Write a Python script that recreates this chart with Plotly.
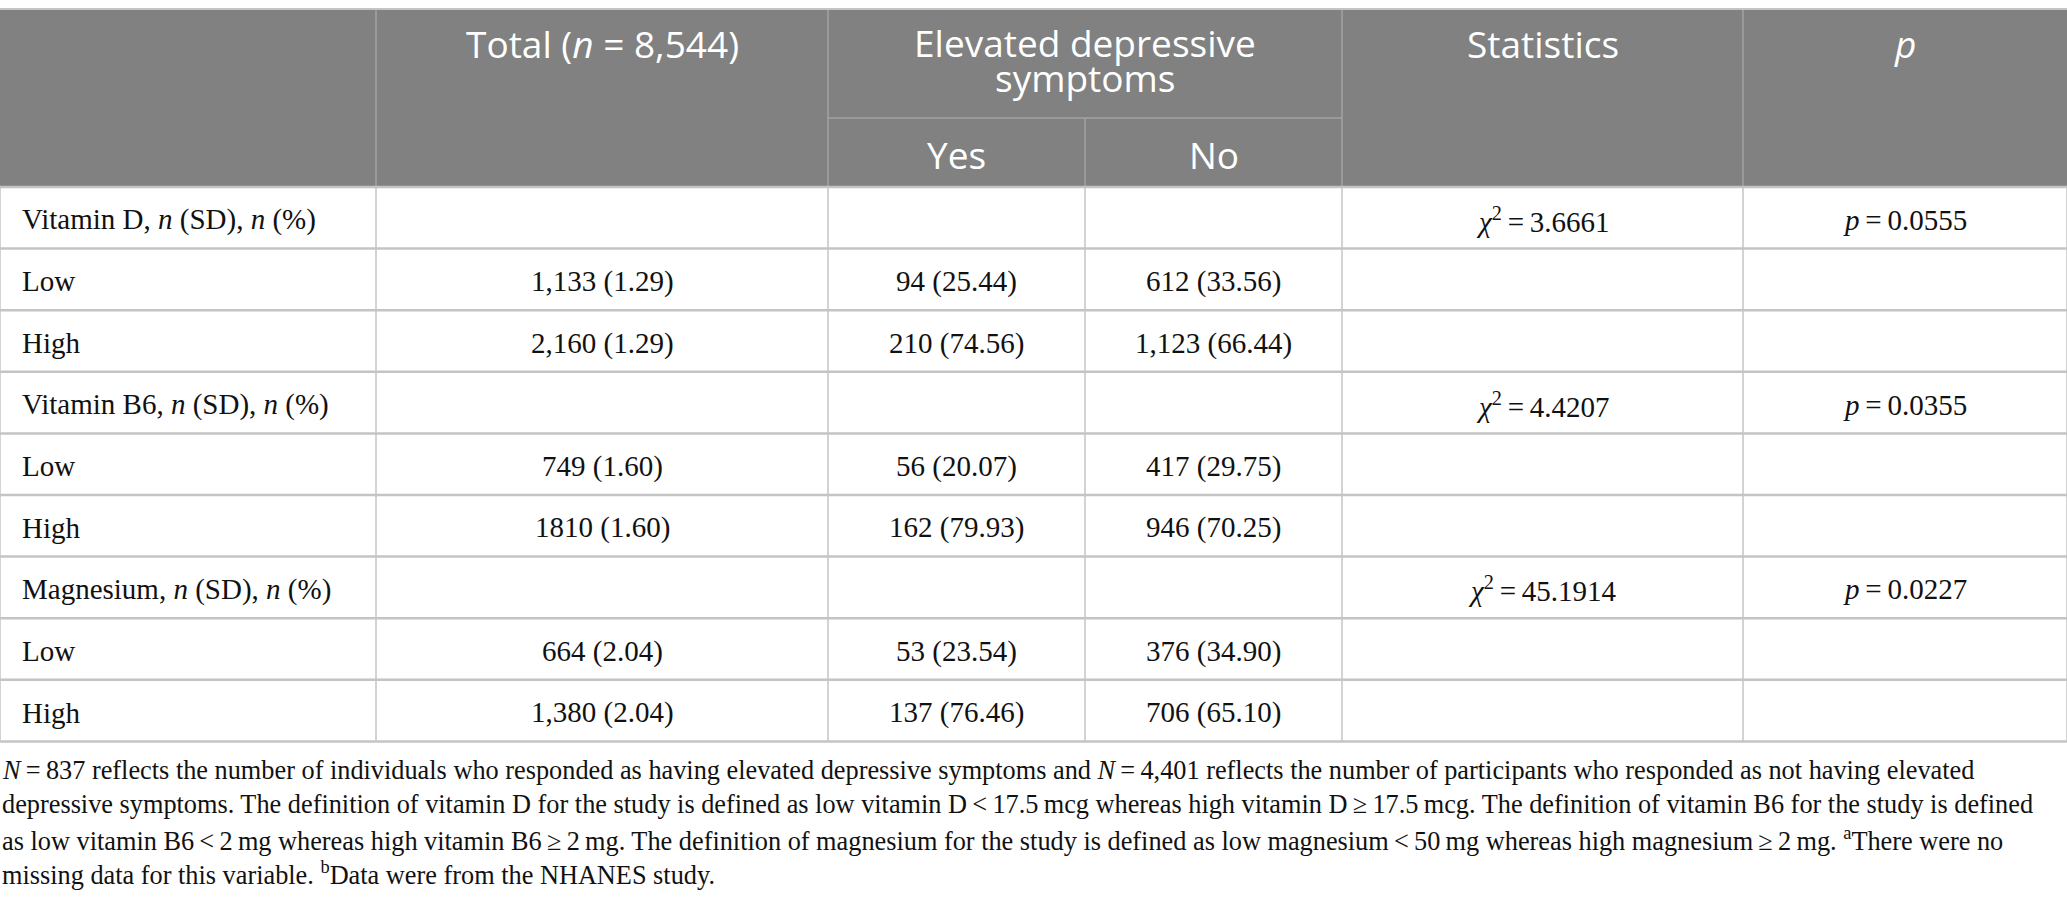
import plotly.graph_objects as go

# table content
row_labels = ["Vitamin D, <i>n</i> (SD), <i>n</i> (%)", "Low", "High",
              "Vitamin B6, <i>n</i> (SD), <i>n</i> (%)", "Low", "High",
              "Magnesium, <i>n</i> (SD), <i>n</i> (%)", "Low", "High"]
total_vals = ["", "1,133 (1.29)", "2,160 (1.29)",
              "", "749 (1.60)", "1810 (1.60)",
              "", "664 (2.04)", "1,380 (2.04)"]
yes_vals = ["", "94 (25.44)", "210 (74.56)",
            "", "56 (20.07)", "162 (79.93)",
            "", "53 (23.54)", "137 (76.46)"]
no_vals = ["", "612 (33.56)", "1,123 (66.44)",
           "", "417 (29.75)", "946 (70.25)",
           "", "376 (34.90)", "706 (65.10)"]
chi_vals = ["3.6661", "", "", "4.4207", "", "", "45.1914", "", ""]
p_vals = ["0.0555", "", "", "0.0355", "", "", "0.0227", "", ""]

footnote = [
    "<i>N</i>\u2009=\u2009837 reflects the number of individuals who responded as having elevated depressive symptoms and <i>N</i>\u2009=\u20094,401 reflects the number of participants who responded as not having elevated",
    "depressive symptoms. The definition of vitamin D for the study is defined as low vitamin D\u2009<\u200917.5\u2009mcg whereas high vitamin D\u2009\u2265\u200917.5\u2009mcg. The definition of vitamin B6 for the study is defined",
    "as low vitamin B6\u2009<\u20092\u2009mg whereas high vitamin B6\u2009\u2265\u20092\u2009mg. The definition of magnesium for the study is defined as low magnesium\u2009<\u200950\u2009mg whereas high magnesium\u2009\u2265\u20092\u2009mg. <sup>a</sup>There were no",
    "missing data for this variable. <sup>b</sup>Data were from the NHANES study.",
]

W, H = 2067, 910
col_edges = [0, 376, 828, 1085, 1342, 1743, 2067]
top, mid, head_bot, row_h = 9, 118, 187, 61.6
n_rows = len(row_labels)
bottom = head_bot + n_rows * row_h

HEAD_BG = "#808180"
HEAD_LINE = "#a3a3a3"
GRID = "#c4c4c4"
INK = "#111111"
SANS = "Open Sans"
SERIF = "Liberation Serif"

fig = go.Figure()
shapes = []
ann = []

# header block
shapes.append(dict(type="rect", x0=0, x1=W, y0=top, y1=head_bot,
                   fillcolor=HEAD_BG, line_width=0, layer="below"))
for i, x in enumerate(col_edges[1:-1], start=1):
    y0 = mid if i == 3 else top
    shapes.append(dict(type="line", x0=x, x1=x, y0=y0, y1=head_bot,
                       line=dict(color=HEAD_LINE, width=1.5)))
shapes.append(dict(type="line", x0=col_edges[2], x1=col_edges[4], y0=mid, y1=mid,
                   line=dict(color=HEAD_LINE, width=1.5)))
shapes.append(dict(type="line", x0=0, x1=W, y0=top, y1=top,
                   line=dict(color=GRID, width=2)))

# body grid
for r in range(n_rows + 1):
    y = head_bot + r * row_h
    shapes.append(dict(type="line", x0=0, x1=W, y0=y, y1=y,
                       line=dict(color=GRID, width=2.5)))
for x in col_edges:
    shapes.append(dict(type="line", x0=x, x1=x, y0=head_bot, y1=bottom,
                       line=dict(color=GRID, width=1.5)))


def cx(i):
    return (col_edges[i] + col_edges[i + 1]) / 2


def txt(x, y, s, size, color, family, xanchor="center"):
    if not s:
        return
    ann.append(dict(x=x, y=y, text=s, showarrow=False, xanchor=xanchor,
                    yanchor="middle", xref="x", yref="y",
                    font=dict(size=size, color=color, family=family)))


# header text
hs = 37
txt(cx(1), 43, "Total (<i>n</i> = 8,544)", hs, "white", SANS)
txt((col_edges[2] + col_edges[4]) / 2, 42, "Elevated depressive", hs, "white", SANS)
txt((col_edges[2] + col_edges[4]) / 2, 77, "symptoms", hs, "white", SANS)
txt(cx(2), 154, "Yes", hs, "white", SANS)
txt(cx(3), 154, "No", hs, "white", SANS)
txt(cx(4), 43, "Statistics", hs, "white", SANS)
txt(cx(5), 43, "<i>p</i>", hs, "white", SANS)

# body text
bs = 29
for r in range(n_rows):
    yc = head_bot + r * row_h + row_h / 2 + 2
    txt(20, yc, row_labels[r], bs, INK, SERIF, xanchor="left")
    txt(cx(1), yc, total_vals[r], bs, INK, SERIF)
    txt(cx(2), yc, yes_vals[r], bs, INK, SERIF)
    txt(cx(3), yc, no_vals[r], bs, INK, SERIF)
    if chi_vals[r]:
        txt(cx(4), yc, "<i>\u03c7</i><sup>2</sup>\u2009=\u2009" + chi_vals[r], bs, INK, SERIF)
    if p_vals[r]:
        txt(cx(5), yc, "<i>p</i>\u2009=\u2009" + p_vals[r], bs, INK, SERIF)

# footnote
for k, line in enumerate(footnote):
    txt(0, 770 + k * 34.5, line, 26.3, INK, SERIF, xanchor="left")

fig.update_layout(
    width=W, height=H,
    margin=dict(l=0, r=0, t=0, b=0),
    paper_bgcolor="white", plot_bgcolor="white",
    xaxis=dict(range=[0, W], visible=False, fixedrange=True),
    yaxis=dict(range=[H, 0], visible=False, fixedrange=True),
    shapes=shapes, annotations=ann, showlegend=False,
)

fig.write_html("out.html", config={"displayModeBar": False},
               post_script="document.body.style.margin='0';")
